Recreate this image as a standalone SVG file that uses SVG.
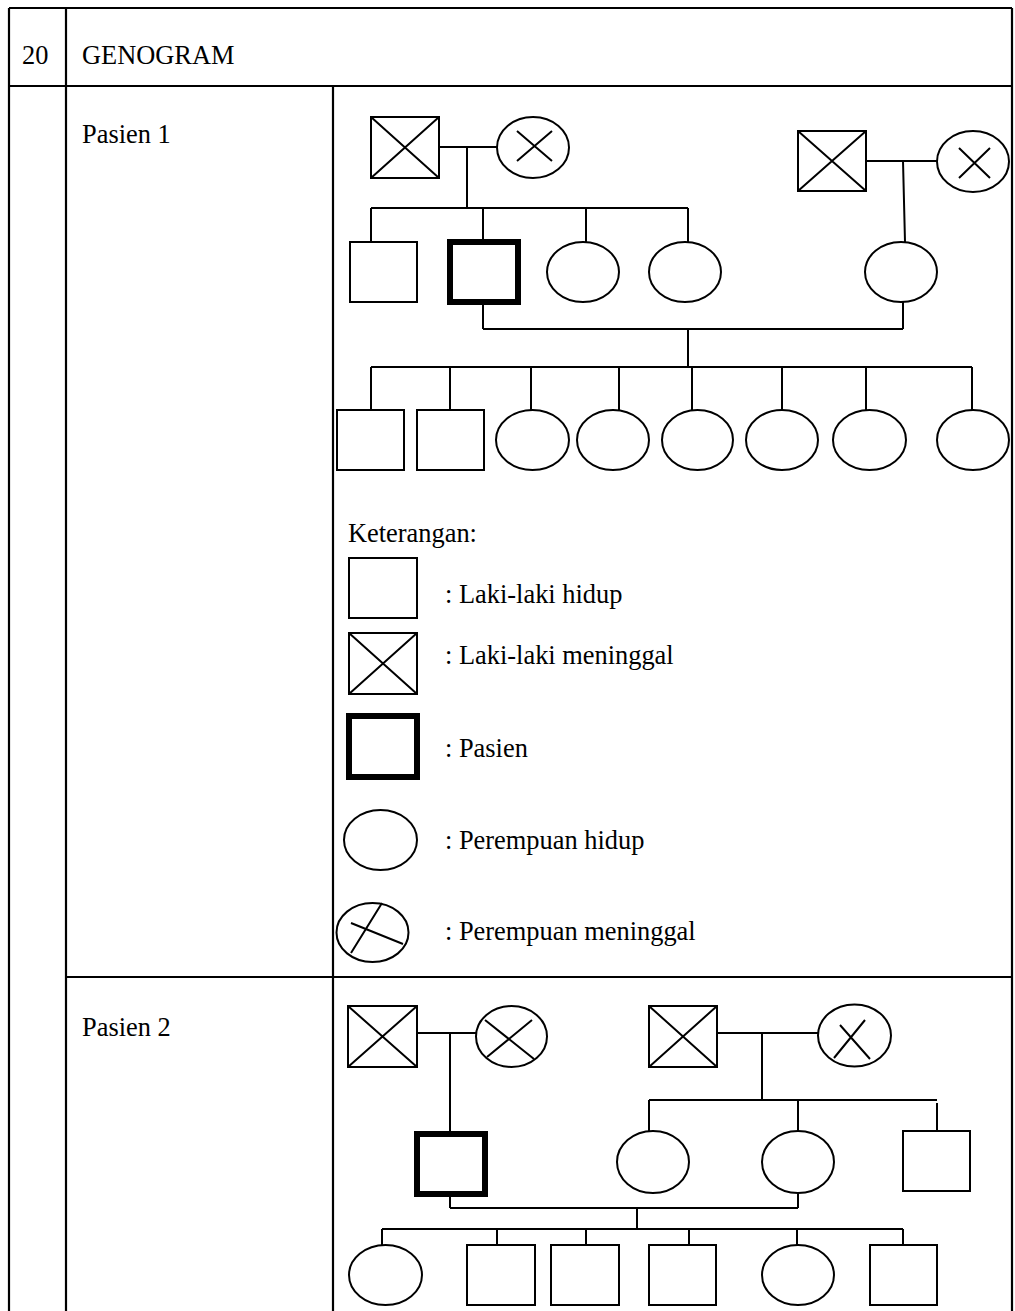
<svg xmlns="http://www.w3.org/2000/svg" width="1015" height="1311" viewBox="0 0 1015 1311">
<style>
.t{font-family:"Liberation Serif","Times New Roman",serif;font-size:26.4px;fill:#000}
.s{fill:#fff;stroke:#000;stroke-width:2}
.p{fill:#fff;stroke:#000;stroke-width:6}
.l{fill:none;stroke:#000;stroke-width:2}
.g{fill:none;stroke:#000;stroke-width:2.2}
</style>
<rect width="1015" height="1311" fill="#fff"/>
<g id="table">
<path class="g" d="M9 8V1311M66 8V1311M1012 8V1311M9 8H1012M9 86H1012M333 86V1311M66 977H1012"/>
<text class="t" x="22" y="64">20</text>
<text class="t" x="82" y="64">GENOGRAM</text>
<text class="t" x="82" y="143">Pasien 1</text>
<text class="t" x="82" y="1036">Pasien 2</text>
</g>
<g id="connectors">
<path class="l" d="M439 147H497M467 147V208M371 208H688M371 208V242M483 208V239M586 208V242M688 208V242"/>
<path class="l" d="M866 161H937M903 161L905 242M903 302V329M483 305V329M483 329H903M688 329V367M371 367H972"/>
<path class="l" d="M371 367V410M450 367V410M531 367V410M619 367V410M692 367V410M782 367V410M866 367V410M972 367V410"/>
<path class="l" d="M417 1033H476M450 1033V1131M450 1197V1208M450 1208H798M798 1193V1208M637 1208V1229M382 1229H903"/>
<path class="l" d="M382 1229V1245M497 1229V1245M586 1229V1245M689 1229V1245M797 1229V1245M903 1229V1245"/>
<path class="l" d="M717 1033H818M762 1033V1100M649 1100H937M649 1100V1131M798 1100V1131M937 1103V1131"/>
</g>
<g id="p1-gf1"><rect class="s" x="371" y="117" width="68" height="61"/><path class="l" d="M371 117L439 178M439 117L371 178"/></g>
<g id="p1-gm1"><ellipse class="s" cx="533" cy="147.5" rx="36" ry="30.5"/><path class="l" d="M517 131L552 161M517 161L552 131"/></g>
<g id="p1-gf2"><rect class="s" x="798" y="131" width="68" height="60"/><path class="l" d="M798 131L866 191M866 131L798 191"/></g>
<g id="p1-gm2"><ellipse class="s" cx="973" cy="161.5" rx="36" ry="30.5"/><path class="l" d="M959 148L990 178M990 148L959 178"/></g>
<g id="p1-u1"><rect class="s" x="350" y="242" width="67" height="60"/></g>
<g id="p1-patient"><rect class="p" x="450" y="242" width="68" height="60"/></g>
<g id="p1-a1"><ellipse class="s" cx="583" cy="272" rx="36" ry="30"/></g>
<g id="p1-a2"><ellipse class="s" cx="685" cy="272" rx="36" ry="30"/></g>
<g id="p1-wife"><ellipse class="s" cx="901" cy="272" rx="36" ry="30"/></g>
<g id="p1-c1"><rect class="s" x="337" y="410" width="67" height="60"/></g>
<g id="p1-c2"><rect class="s" x="417" y="410" width="67" height="60"/></g>
<g id="p1-c3"><ellipse class="s" cx="532.5" cy="440" rx="36.5" ry="30"/></g>
<g id="p1-c4"><ellipse class="s" cx="613" cy="440" rx="36" ry="30"/></g>
<g id="p1-c5"><ellipse class="s" cx="697.5" cy="440" rx="35.5" ry="30"/></g>
<g id="p1-c6"><ellipse class="s" cx="782" cy="440" rx="36" ry="30"/></g>
<g id="p1-c7"><ellipse class="s" cx="869.5" cy="440" rx="36.5" ry="30"/></g>
<g id="p1-c8"><ellipse class="s" cx="973" cy="440" rx="36" ry="30"/></g>
<g id="legend">
<text class="t" x="348" y="542">Keterangan:</text>
<rect class="s" x="349" y="558" width="68" height="60"/>
<text class="t" x="445" y="603">: Laki-laki hidup</text>
<rect class="s" x="349" y="633" width="68" height="61"/><path class="l" d="M349 633L417 694M417 633L349 694"/>
<text class="t" x="445" y="664">: Laki-laki meninggal</text>
<rect class="p" x="349" y="716" width="68" height="61"/>
<text class="t" x="445" y="757">: Pasien</text>
<ellipse class="s" cx="380.5" cy="840" rx="36.5" ry="30"/>
<text class="t" x="445" y="849">: Perempuan hidup</text>
<ellipse class="s" cx="372.5" cy="932.5" rx="36" ry="29.5"/><path class="l" d="M382 903L351 953M351 923L403 944"/>
<text class="t" x="445" y="940">: Perempuan meninggal</text>
</g>
<g id="p2-gf1"><rect class="s" x="348" y="1006" width="69" height="61"/><path class="l" d="M348 1006L417 1067M417 1006L348 1067"/></g>
<g id="p2-gm1"><ellipse class="s" cx="511.5" cy="1036.5" rx="35.5" ry="30.5"/><path class="l" d="M485 1020L534 1059M487 1057L532 1020"/></g>
<g id="p2-gf2"><rect class="s" x="649" y="1006" width="68" height="61"/><path class="l" d="M649 1006L717 1067M717 1006L649 1067"/></g>
<g id="p2-gm2"><ellipse class="s" cx="854.5" cy="1035.5" rx="36.5" ry="31"/><path class="l" d="M834 1058L865 1020M840 1025L870 1059"/></g>
<g id="p2-patient"><rect class="p" x="417" y="1134" width="68" height="60"/></g>
<g id="p2-a1"><ellipse class="s" cx="653" cy="1162" rx="36" ry="31"/></g>
<g id="p2-wife"><ellipse class="s" cx="798" cy="1162" rx="36" ry="31"/></g>
<g id="p2-u1"><rect class="s" x="903" y="1131" width="67" height="60"/></g>
<g id="p2-c1"><ellipse class="s" cx="385.5" cy="1275" rx="36.5" ry="30"/></g>
<g id="p2-c2"><rect class="s" x="467" y="1245" width="68" height="60"/></g>
<g id="p2-c3"><rect class="s" x="551" y="1245" width="68" height="60"/></g>
<g id="p2-c4"><rect class="s" x="649" y="1245" width="67" height="60"/></g>
<g id="p2-c5"><ellipse class="s" cx="798" cy="1275" rx="36" ry="30"/></g>
<g id="p2-c6"><rect class="s" x="870" y="1245" width="67" height="60"/></g>
</svg>
